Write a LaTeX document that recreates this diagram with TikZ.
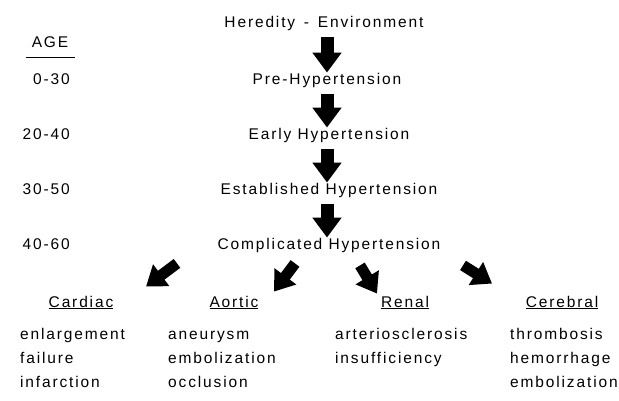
\documentclass[tikz,border=0pt]{standalone}
\usepackage{fontspec}
\setmainfont{Liberation Sans}[LetterSpace=12]
\usetikzlibrary{arrows.meta}

\begin{document}
\begin{tikzpicture}[x=1pt,y=-1pt,
  every node/.style={font=\fontsize{15.5}{18}\selectfont, inner sep=0pt, anchor=base},
  age/.style={anchor=base east},
  item/.style={anchor=base west},
  down/.style={line width=13pt, -{Triangle[width=28pt,length=20pt]}, shorten <=6pt, shorten >=1pt},
  slant/.style={line width=11pt, -{Triangle[width=26pt,length=19pt]}}]
\useasboundingbox (0,0) rectangle (619,401);
\node (he) at (324,28) {Heredity\, - \,Environment};
\node (pre) at (327,85) {Pre-Hypertension};
\node (early) at (329,140) {Early Hypertension};
\node (est) at (329,195) {Established Hypertension};
\node (comp) at (329,250) {Complicated Hypertension};
\draw[down] (he.south -| pre.north) -- (pre.north);
\draw[down] (pre.south) -- (early.north -| pre.south);
\draw[down] (early.south -| pre.south) -- (est.north -| pre.south);
\draw[down] (est.south -| pre.south) -- (comp.north -| pre.south);
% age column
\node (agehd) at (50,48) {AGE};
\draw[line width=0.8pt] ([xshift=-6pt,yshift=-9pt]agehd.south west) -- ([xshift=7pt,yshift=-9pt]agehd.south east);
\node[age] (a1) at (70,85) {0-30};
\node[age] (a2) at (70,140) {20-40};
\node[age] (a3) at (70,195) {30-50};
\node[age] (a4) at (70,250) {40-60};
% complications
\node (card) at (81,307) {\underline{Cardiac}};
\node (aor) at (234,307) {\underline{Aortic}};
\node (ren) at (405,307) {\underline{Renal}};
\node (cer) at (562,307) {\underline{Cerebral}};
\draw[slant] ([shift={(-152,10)}]comp.south) -- ([shift={(65,-9)}]card.north);
\draw[slant] ([shift={(-34,10)}]comp.south) -- ([shift={(40,-4)}]aor.north);
\draw[slant] ([shift={(31,12)}]comp.south) -- ([shift={(-28,-2)}]ren.north);
\draw[slant] ([shift={(134,12)}]comp.south) -- ([shift={(-70,-12)}]cer.north);
\node[item] (c1) at (20,339) {enlargement};
\node[item] (c2) at (20,363) {failure};
\node[item] (c3) at (20,387) {infarction};
\node[item] (o1) at (168,339) {aneurysm};
\node[item] (o2) at (168,363) {embolization};
\node[item] (o3) at (168,387) {occlusion};
\node[item] (r1) at (335,339) {arteriosclerosis};
\node[item] (r2) at (335,363) {insufficiency};
\node[item] (e1) at (510,339) {thrombosis};
\node[item] (e2) at (510,363) {hemorrhage};
\node[item] (e3) at (510,387) {embolization};
\end{tikzpicture}
\end{document}
